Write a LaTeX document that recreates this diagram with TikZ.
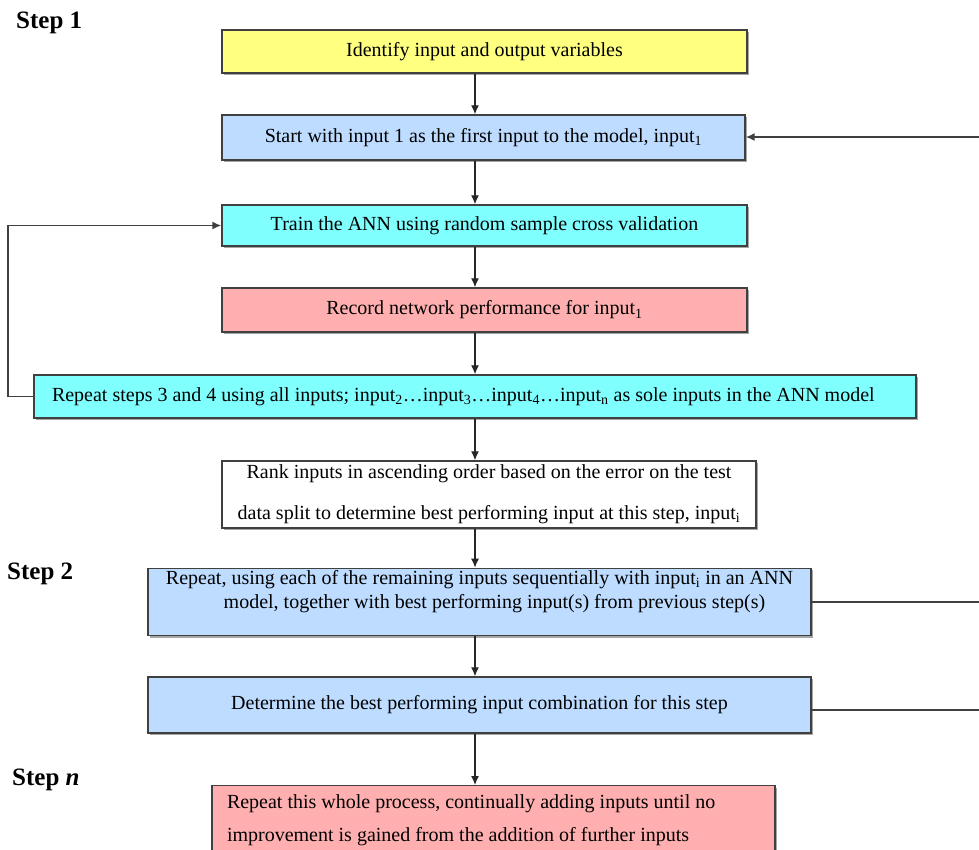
\documentclass[tikz,border=0pt]{standalone}
\usepackage{fontspec}
\setmainfont{Liberation Serif}
\usetikzlibrary{arrows.meta,shadows,calc}
\definecolor{cyellow}{HTML}{FFFF80}
\definecolor{cblue}{HTML}{BDDCFF}
\definecolor{ccyan}{HTML}{80FFFF}
\definecolor{cpink}{HTML}{FFAFAF}
\tikzset{
  box/.style={draw=black!75, line width=1.4pt, inner sep=2pt,
    font=\fontsize{20}{24}\selectfont, align=center,
    drop shadow={shadow xshift=2pt, shadow yshift=-2pt, fill=black, opacity=0.35}},
  steplabel/.style={font=\fontsize{25}{29}\selectfont\bfseries, anchor=west, inner sep=0pt},
  arr/.style={draw=black!85, line width=1.3pt, -{Latex[length=9pt,width=8pt]}},
  conn/.style={draw=black!75, line width=1.6pt},
}
\begin{document}
\begin{tikzpicture}[x=1pt,y=-1pt]
\useasboundingbox (0,0) rectangle (979,849);
\clip (0,0) rectangle (979,849);
\fill[white] (0,0) rectangle (979,849);
\coordinate (ax) at (475,0);
\coordinate (lx) at (8,0);
\coordinate (r2) at (979,137);
\coordinate (r7) at (979,602);
\coordinate (r8) at (979,710);

\node[steplabel] (S1) at (16,23) {Step 1};
\node[steplabel] (S2) at (7,574) {Step 2};
\node[steplabel] (Sn) at (12,780) {Step \textit{n}};

\node[box, fill=cyellow, minimum width=525, minimum height=43] (B1) at (484.5,51.5)
  {Identify input and output variables};
\node[box, fill=cblue, minimum width=523, minimum height=45] (B2) at (483.5,137.5)
  {Start with input 1 as the first input to the model, input\textsubscript{1}};
\node[box, fill=ccyan, minimum width=525, minimum height=41] (B3) at (484.5,225.5)
  {Train the ANN using random sample cross validation};
\node[box, fill=cpink, minimum width=525, minimum height=44] (B4) at (484.5,310)
  {Record network performance for input\textsubscript{1}};
\node[box, fill=ccyan, minimum height=43, text width=846, inner xsep=18pt, align=flush left] (B5) at (475,396.5)
  {Repeat steps 3 and 4 using all inputs; input\textsubscript{2}…input\textsubscript{3}…input\textsubscript{4}…input\textsubscript{n} as sole inputs in the ANN model};
\node[box, fill=white, minimum width=534, minimum height=67] (B6) at (489,494.5)
  {Rank inputs in ascending order based on the error on the test\\[17pt]
   data split to determine best performing input at this step, input\textsubscript{i}};
\node[box, fill=cblue, minimum width=663, minimum height=66] (B7) at (479.5,602)
  {Repeat, using each of the remaining inputs sequentially with input\textsubscript{i} in an ANN\\
   \hspace*{30pt}model, together with best performing input(s) from previous step(s)\\[-6pt]\strut};
\node[box, fill=cpink, minimum width=563, text width=533, inner xsep=15pt, align=flush left, anchor=north] (B9) at (493.5,785)
  {\rule{0pt}{21pt}Repeat this whole process, continually adding inputs until no\\[9pt]
   improvement is gained from the addition of further inputs\\[10pt]\strut};
\node[box, fill=cblue, minimum width=663, minimum height=56] (B8) at (479.5,705)
  {Determine the best performing input combination for this step};

\draw[arr] (B1.south -| ax) -- (B2.north -| ax);
\draw[arr] (B2.south -| ax) -- (B3.north -| ax);
\draw[arr] (B3.south -| ax) -- (B4.north -| ax);
\draw[arr] (B4.south -| ax) -- (B5.north -| ax);
\draw[arr] (B5.south -| ax) -- (B6.north -| ax);
\draw[arr] (B6.south -| ax) -- (B7.north -| ax);
\draw[arr] (B7.south -| ax) -- (B8.north -| ax);
\draw[arr] (B8.south -| ax) -- (B9.north -| ax);

\draw[arr, draw=black!75, line width=1.6pt] (r2) -- (r2 -| B2.east);
\draw[arr, draw=black!75, line width=1.6pt] (B5.west) -- (B5.west -| lx) |- (B3.west);
\draw[conn] (B7.east) -- (r7);
\draw[conn] (r8 -| B8.east) -- (r8);
\end{tikzpicture}
\end{document}
